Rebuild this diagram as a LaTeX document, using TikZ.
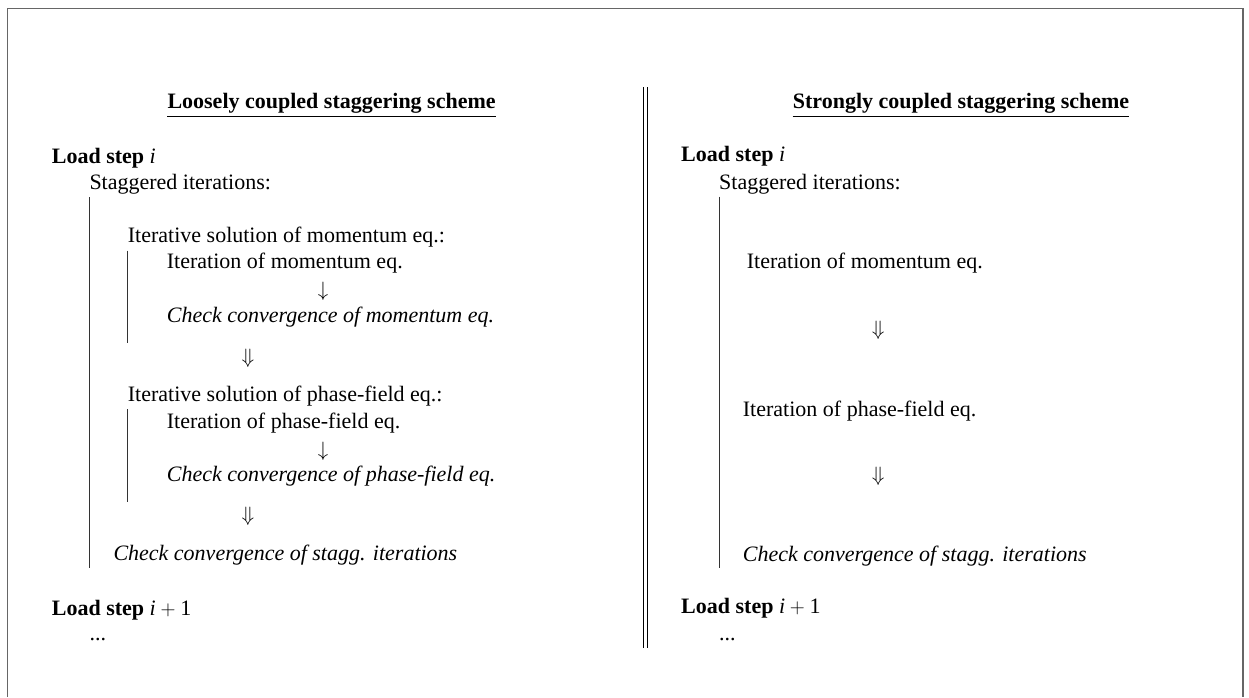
\documentclass[tikz,border=0pt]{standalone}
\usepackage{fontspec}
\setmainfont{Liberation Serif}
\newcommand\myfs{\fontsize{22}{26}\selectfont}
\newcommand\iplusone{\textit{i}\hspace{0.22em}$+$\hspace{0.22em}1}
\begin{document}
\begin{tikzpicture}[x=1pt,y=-1pt,
  txt/.style={anchor=base west,inner sep=0pt,font=\myfs},
  ttl/.style={txt,font=\myfs\bfseries},
  arr/.style={anchor=center,inner sep=0pt,font=\myfs},
  bar/.style={line width=1pt,black!80},
  frame/.style={line width=1.5pt,black!60}]
\useasboundingbox (0,0) rectangle (1249,697);
% frame (open at bottom)
\draw[frame] (7.5,697) -- (7.5,8.5) -- (1243,8.5) -- (1243,697);
% separator
\draw[line width=1pt] (643.3,87) -- (643.3,648);
\draw[line width=1pt] (647.3,87) -- (647.3,648);
% ---------------- left panel
\node[ttl] (t1) at (167.3,108.3) {Loosely coupled staggering scheme};
\draw[line width=1pt] ([yshift=-8.4pt]t1.base west) -- ([yshift=-8.4pt]t1.base east);
\node[txt] (l1) at (51.7,163) {\textbf{Load step} \textit{i}};
\node[txt] (s1) at (89.3,189) {Staggered iterations:};
\node[txt] (im1) at (127.7,242.7) {Iterative solution of momentum eq.:};
\node[txt] (m1) at (166.7,268.3) {Iteration of momentum eq.};
\node[arr] (a1) at (323,291.7) {$\downarrow$};
\node[txt] (cm1) at (166.7,322.7) {\itshape Check convergence of momentum eq.};
\node[arr] (a2) at (248,358) {$\Downarrow$};
\node[txt] (ip1) at (127.7,401.7) {Iterative solution of phase-field eq.:};
\node[txt] (p1) at (166.7,428.3) {Iteration of phase-field eq.};
\node[arr] (a3) at (323,451.7) {$\downarrow$};
\node[txt] (cp1) at (166.7,481) {\itshape Check convergence of phase-field eq.};
\node[arr] (a4) at (248,516.7) {$\Downarrow$};
\node[txt] (cs1) at (113.3,560.7) {\itshape Check convergence of stagg. iterations};
\node[txt] (n1) at (51.7,615) {\textbf{Load step} \iplusone};
\node[txt] (d1) at (89.3,640.7) {...};
\coordinate (b1t) at (89.3,197);
\coordinate (b1b) at (89.3,568.3);
\draw[bar] (b1t) -- (b1b);
\coordinate (b2t) at (127.7,250.7);
\coordinate (b2b) at (127.7,342.7);
\draw[bar] (b2t) -- (b2b);
\coordinate (b3t) at (127.7,409);
\coordinate (b3b) at (127.7,501.7);
\draw[bar] (b3t) -- (b3b);
% ---------------- right panel
\node[ttl] (t2) at (792.7,108.3) {Strongly coupled staggering scheme};
\draw[line width=1pt] ([yshift=-8.4pt]t2.base west) -- ([yshift=-8.4pt]t2.base east);
\node[txt] (l2) at (681,161.7) {\textbf{Load step} \textit{i}};
\node[txt] (s2) at (719,189.3) {Staggered iterations:};
\node[txt] (m2) at (746.7,268.3) {Iteration of momentum eq.};
\node[arr] (a5) at (878.3,330) {$\Downarrow$};
\node[txt] (p2) at (742.7,416) {Iteration of phase-field eq.};
\node[arr] (a6) at (878.3,476.7) {$\Downarrow$};
\node[txt] (cs2) at (742.7,561) {\itshape Check convergence of stagg. iterations};
\node[txt] (n2) at (681,613.3) {\textbf{Load step} \iplusone};
\node[txt] (d2) at (719,640.7) {...};
\coordinate (b4t) at (719,196.7);
\coordinate (b4b) at (719,568.3);
\draw[bar] (b4t) -- (b4b);
\end{tikzpicture}
\end{document}
